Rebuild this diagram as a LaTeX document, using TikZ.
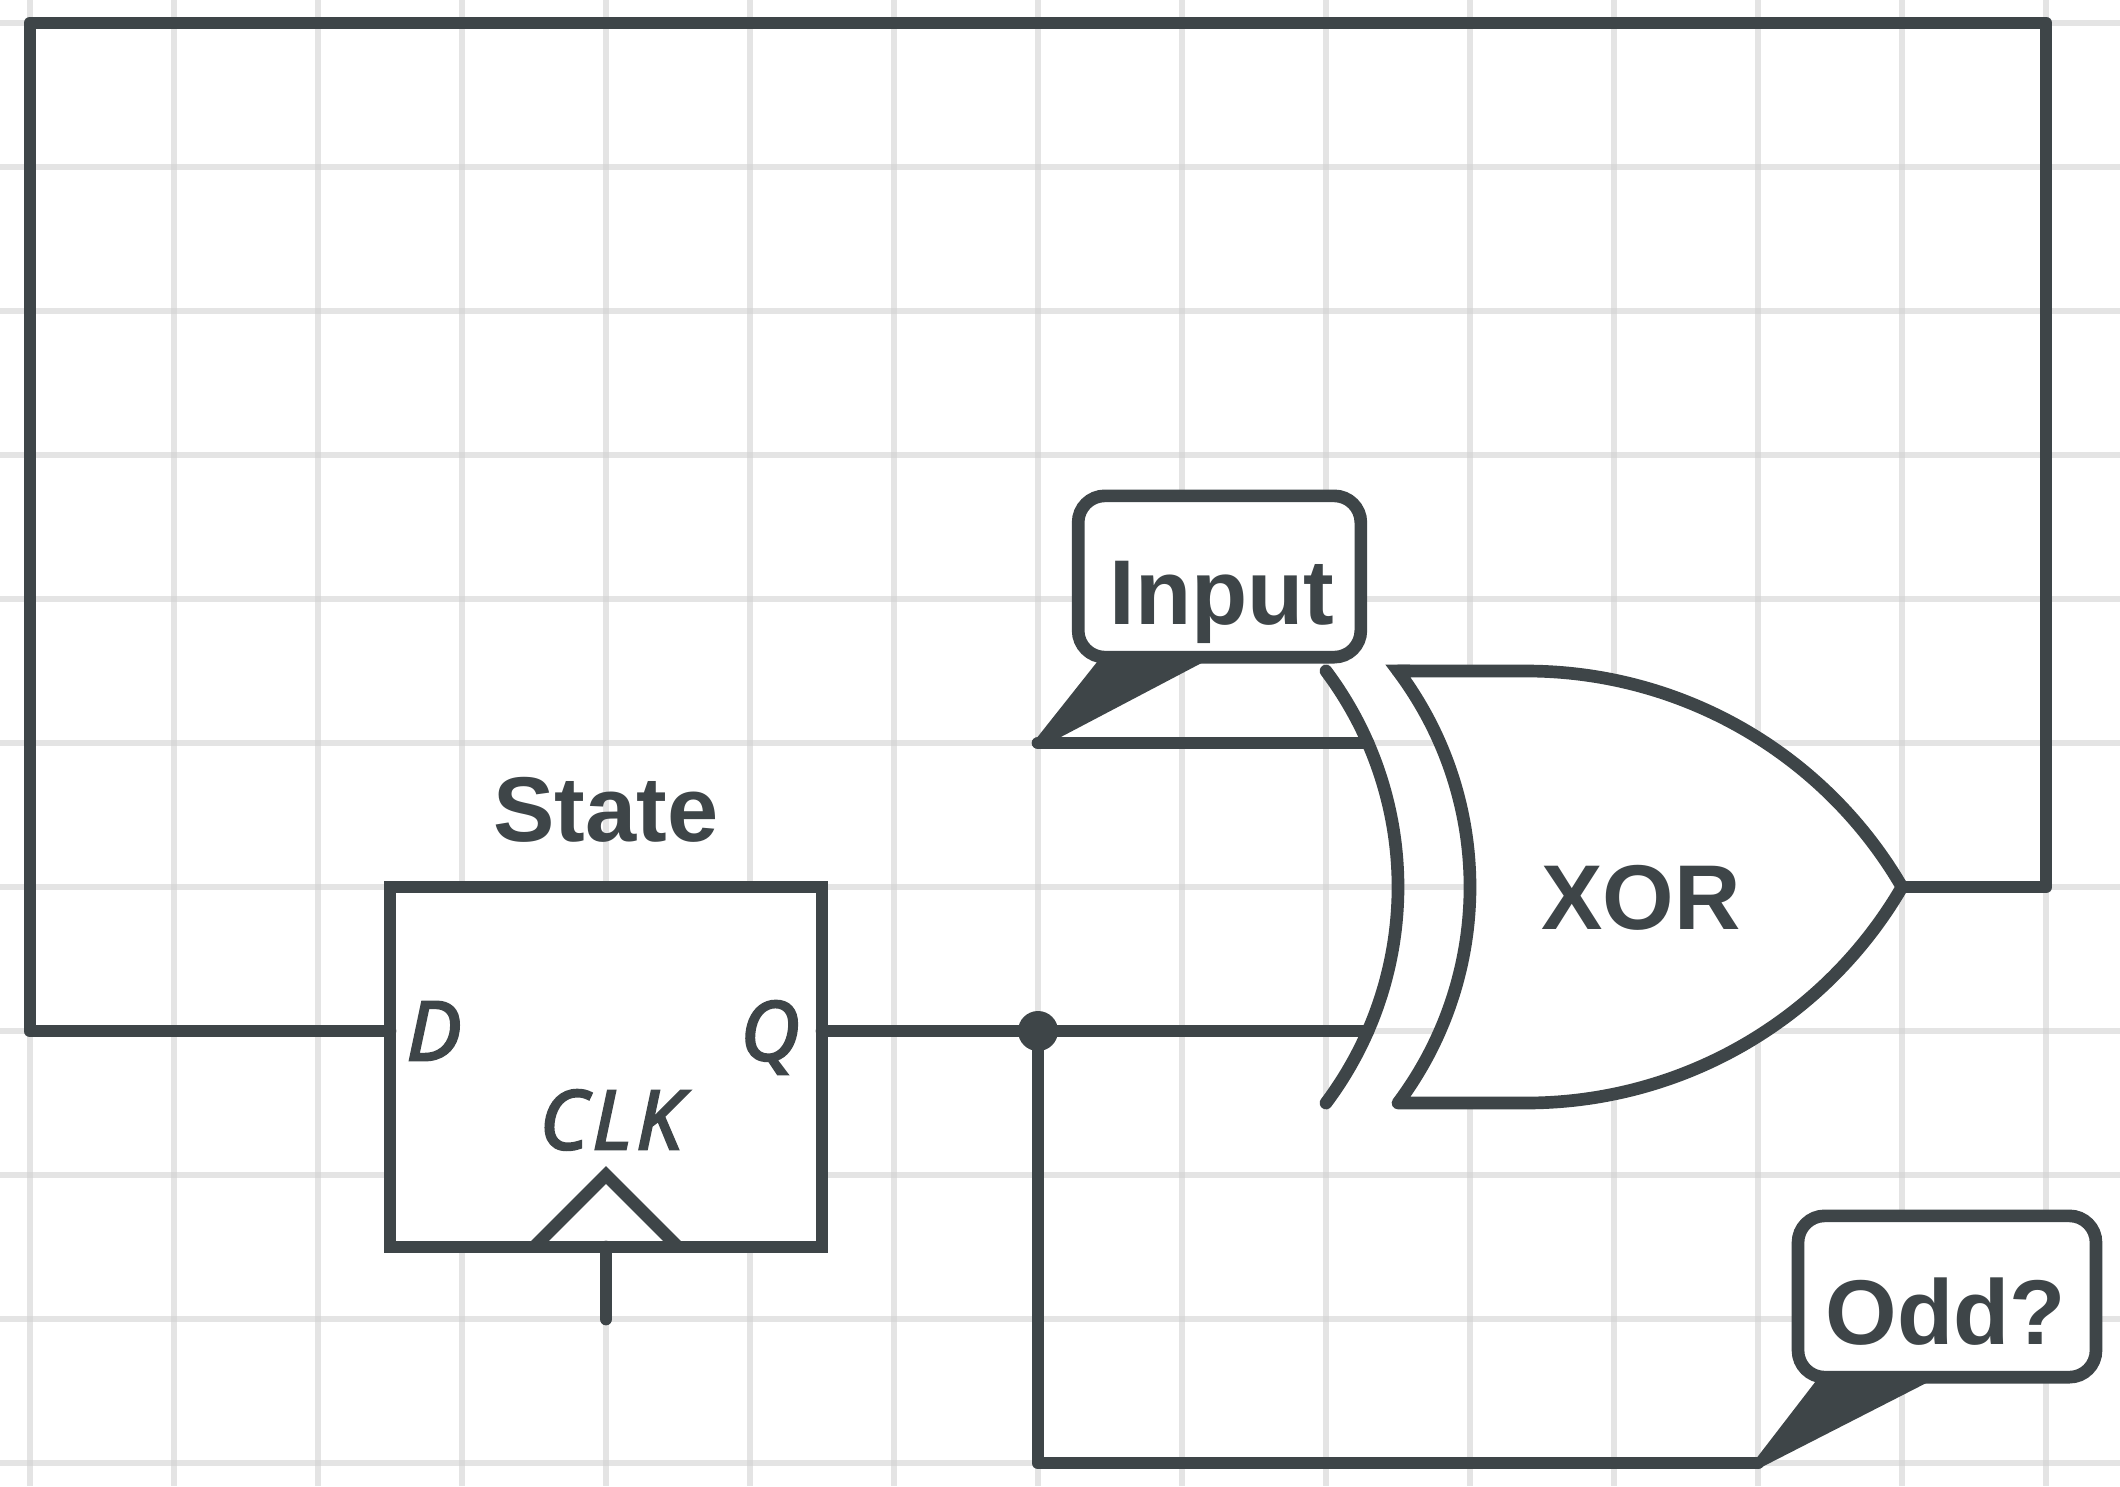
\documentclass[tikz,border=0pt]{standalone}
\usepackage{fontspec}
\setmainfont{Liberation Sans}
\newfontfamily\pinfont[ItalicFeatures={FakeBold=3.5}]{Open Sans}
\definecolor{wirecolor}{RGB}{62,69,72}
\definecolor{gridcolor}{RGB}{210,210,210}
\tikzset{every picture/.style={line width=9.5pt}}
\tikzset{
	wire/.style={draw=wirecolor,line width=9.5pt,line cap=round,line join=round},
	gridline/.style={draw=gridcolor,opacity=0.58,line width=4pt},
	bubble/.style={draw=wirecolor,fill=white,line width=9.5pt,rounded corners=20pt,outer sep=0pt,inner sep=0pt},
	boldlabel/.style={text=wirecolor,inner sep=0pt,anchor=base,font=\fontsize{69}{84}\selectfont\bfseries},
	pinlabel/.style={text=wirecolor,inner sep=0pt,anchor=base,font=\fontsize{61}{72}\pinfont\itshape},
	junction/.style={circle,fill=wirecolor,minimum size=30pt,inner sep=0pt}
}
\begin{document}
\begin{tikzpicture}[x=0.75pt,y=0.75pt,yscale=-1,xscale=1]
	\useasboundingbox (0,0) rectangle (2120,1486);
	\fill[white] (0,0) rectangle (2120,1486);
	
	% Grid
	\foreach \gx in {0,...,14} {\draw[gridline] (30+144*\gx,0) -- (30+144*\gx,1486);}
	\foreach \gy in {0,...,10} {\draw[gridline] (0,23+144*\gy) -- (2120,23+144*\gy);}
	
	% State box
	\node (state) [draw=wirecolor,fill=white,line width=9.5pt,outer sep=0pt,minimum width=324pt,minimum height=270pt] at (606,1067) {};
	\coordinate (dpin) at (390,1031);
	\coordinate (qpin) at (822,1031);
	\coordinate (clkpin) at (606,1247);
	\coordinate (clkend) at (606,1319);
	\draw [draw=wirecolor,line width=9.5pt,miter limit=10] (534,1247) -- (606,1175) -- (678,1247);
	\draw [wire] (clkpin) -- (clkend);
	
	% XOR gate
	\coordinate (xorout) at (1902,887);
	\draw [wire,fill=white] (1398,671) -- (1526,671) .. controls (1681,671) and (1824,753) .. (xorout) .. controls (1824,1021) and (1681,1103) .. (1526,1103) -- (1398,1103) .. controls (1444.7,1040.7) and (1470,964.9) .. (1470,887) .. controls (1470,809.1) and (1444.7,733.3) .. cycle;
	\fill [wirecolor] (1385.4,664.7) -- (1410,664.7) -- (1403,676) -- (1393,674.8) -- cycle;
	\draw [wire] (1326,671) .. controls (1372.7,733.3) and (1398,809.1) .. (1398,887) .. controls (1398,964.9) and (1372.7,1040.7) .. (1326,1103);
	\coordinate (xora) at (1368,743);
	\coordinate (xorb) at (1368,1031);
	
	% Wires
	\coordinate (topleft) at (30,23);
	\coordinate (topright) at (2046,23);
	\coordinate (outright) at (2046,887);
	\coordinate (inputtip) at (1038,743);
	\coordinate (oddtip) at (1758,1463);
	\coordinate (oddcorner) at (1038,1463);
	\draw [wire] (xorout) -- (outright) -- (topright) -- (topleft) -- (30,1031) -- (dpin);
	\draw [wire] (inputtip) -- (xora);
	\draw [wire] (qpin) -- (xorb);
	\node (tap) [junction] at (1038,1031) {};
	\draw [wire] (tap.center) -- (oddcorner) -- (oddtip);
	
	% Callouts
	\node (input) [bubble,minimum width=212pt,minimum height=121pt] at (1219.5,576.5) {};
	\node (odd) [bubble,minimum width=223.5pt,minimum height=121pt] at (1947,1296.5) {};
	\fill [wirecolor] (1101,657) -- (1032,744) -- (1038,749) -- (1213,657) -- cycle;
	\fill [wirecolor] (1819,1377) -- (1752,1464) -- (1758,1469) -- (1938,1377) -- cycle;
	
	% Text Node
	\node (inputtext) [boldlabel] at (1222,624) {Input};
	% Text Node
	\node (oddtext) [boldlabel] at (1946,1344) {Odd?};
	% Text Node
	\node (statetext) [boldlabel] at (606,841) {State};
	% Text Node
	\node (xortext) [boldlabel] at (1641,929) {XOR};
	% Text Node
	\node (dtext) [pinlabel] at (434,1060) {D};
	% Text Node
	\node (qtext) [pinlabel] at (770,1060) {Q};
	% Text Node
	\node (clktext) [pinlabel] at (611,1149) {\addfontfeature{LetterSpace=6}CLK};
\end{tikzpicture}
\end{document}
